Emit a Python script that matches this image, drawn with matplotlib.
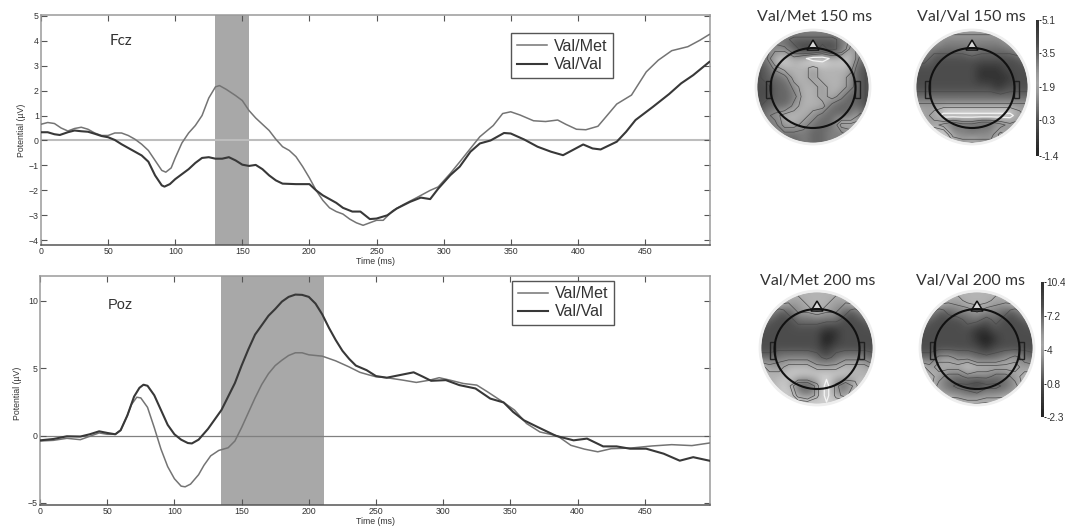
import matplotlib
matplotlib.use('Agg')
import matplotlib.pyplot as plt
from matplotlib.patches import Circle, Ellipse, Polygon, Rectangle
import numpy as np

W, H = 1065, 528

# Fcz (時間, 電位)
fcz_met_t = [0, 5, 10, 15, 20, 25, 30, 35, 40, 45, 50, 55, 60, 65, 70, 75, 80, 85, 90, 93, 97, 100, 105, 110, 115, 120, 125, 130, 133, 138, 145, 150, 155, 160, 165, 170, 175, 180, 185, 190, 195, 200, 205, 210, 215, 220, 225, 230, 235, 240, 250, 255, 262, 270, 280, 290, 296, 305, 312, 320, 327, 337, 344, 350, 357, 367, 376, 385, 391, 399, 406, 415, 421, 429, 440, 451, 460, 470, 482, 491, 498]
fcz_met_v = [0.65, 0.72, 0.68, 0.5, 0.38, 0.48, 0.53, 0.45, 0.3, 0.2, 0.2, 0.3, 0.3, 0.2, 0.05, -0.15, -0.4, -0.8, -1.2, -1.27, -1.1, -0.7, -0.1, 0.3, 0.6, 1.0, 1.7, 2.15, 2.2, 2.05, 1.8, 1.6, 1.2, 0.9, 0.65, 0.4, 0.05, -0.25, -0.4, -0.65, -1.05, -1.5, -2.0, -2.4, -2.7, -2.85, -2.95, -3.15, -3.3, -3.4, -3.2, -3.2, -2.82, -2.57, -2.29, -2.0, -1.86, -1.32, -0.86, -0.32, 0.15, 0.6, 1.08, 1.15, 1.02, 0.79, 0.76, 0.82, 0.65, 0.45, 0.43, 0.57, 0.95, 1.46, 1.82, 2.75, 3.22, 3.6, 3.76, 4.02, 4.25]
fcz_val_t = [0, 5, 10, 14, 20, 25, 30, 35, 40, 45, 50, 55, 60, 65, 70, 75, 80, 85, 90, 92, 96, 100, 105, 110, 115, 120, 125, 130, 135, 140, 145, 150, 155, 160, 165, 170, 175, 180, 190, 200, 205, 210, 215, 220, 225, 232, 238, 245, 250, 258, 265, 275, 283, 290, 296, 305, 312, 320, 327, 335, 345, 350, 360, 370, 380, 389, 396, 404, 411, 417, 429, 436, 443, 456, 468, 477, 486, 498]
fcz_val_v = [0.33, 0.33, 0.25, 0.22, 0.33, 0.4, 0.37, 0.35, 0.27, 0.18, 0.13, 0.02, -0.15, -0.3, -0.45, -0.6, -0.85, -1.4, -1.8, -1.85, -1.75, -1.55, -1.35, -1.15, -0.9, -0.7, -0.67, -0.73, -0.73, -0.67, -0.8, -0.97, -1.02, -0.98, -1.15, -1.4, -1.6, -1.73, -1.75, -1.75, -2.0, -2.2, -2.35, -2.5, -2.7, -2.85, -2.85, -3.15, -3.13, -3.0, -2.73, -2.46, -2.29, -2.35, -1.93, -1.39, -1.05, -0.45, -0.12, 0.0, 0.3, 0.28, 0.04, -0.25, -0.45, -0.59, -0.39, -0.16, -0.32, -0.36, -0.05, 0.35, 0.82, 1.35, 1.86, 2.29, 2.62, 3.15]

# Poz
poz_met_t = [0, 10, 20, 30, 37, 44, 50, 56, 60, 65, 68, 72, 75, 80, 85, 90, 95, 100, 105, 108, 112, 118, 122, 127, 133, 140, 145, 150, 155, 160, 165, 170, 175, 180, 185, 190, 195, 200, 210, 220, 230, 238, 245, 250, 258, 270, 280, 290, 297, 305, 315, 325, 333, 345, 353, 362, 372, 385, 395, 405, 415, 425, 440, 455, 470, 485, 498]
poz_met_v = [-0.4, -0.35, -0.2, -0.3, -0.05, 0.2, 0.1, 0.1, 0.4, 1.5, 2.3, 2.85, 2.8, 2.1, 0.6, -1.0, -2.3, -3.2, -3.75, -3.8, -3.6, -2.9, -2.2, -1.5, -1.1, -0.9, -0.4, 0.6, 1.7, 2.8, 3.8, 4.6, 5.2, 5.6, 5.95, 6.15, 6.15, 6.0, 5.9, 5.55, 5.1, 4.7, 4.5, 4.37, 4.3, 4.12, 3.95, 4.12, 4.3, 4.12, 3.87, 3.75, 3.25, 2.46, 1.9, 0.9, 0.27, -0.02, -0.72, -1.0, -1.2, -0.97, -0.92, -0.77, -0.67, -0.74, -0.55]
poz_val_t = [0, 10, 20, 30, 37, 44, 50, 56, 60, 65, 70, 74, 77, 80, 85, 90, 95, 100, 105, 110, 113, 118, 125, 130, 135, 140, 145, 150, 155, 160, 165, 170, 175, 180, 185, 190, 195, 200, 205, 210, 215, 220, 225, 230, 235, 243, 250, 258, 268, 278, 285, 291, 302, 312, 324, 335, 345, 352, 360, 370, 384, 397, 407, 419, 429, 439, 451, 464, 476, 486, 498]
poz_val_v = [-0.35, -0.25, -0.05, -0.07, 0.1, 0.32, 0.2, 0.1, 0.4, 1.5, 2.9, 3.55, 3.78, 3.7, 3.0, 1.9, 0.8, 0.1, -0.3, -0.55, -0.58, -0.3, 0.5, 1.2, 1.9, 2.9, 3.9, 5.2, 6.4, 7.5, 8.2, 8.9, 9.4, 9.95, 10.3, 10.47, 10.45, 10.3, 9.8, 9.0, 8.0, 7.1, 6.3, 5.7, 5.2, 4.86, 4.42, 4.3, 4.5, 4.7, 4.37, 4.07, 4.12, 3.75, 3.5, 2.75, 2.46, 1.76, 1.14, 0.65, -0.02, -0.35, -0.22, -0.8, -0.8, -0.97, -0.97, -1.34, -1.86, -1.6, -1.86]

x_ticks = [0, 50, 100, 150, 200, 250, 300, 350, 400, 450]
fcz_yticks = [-4, -3, -2, -1, 0, 1, 2, 3, 4, 5]
poz_yticks = [-5, 0, 5, 10]
fcz_span = [129.7, 155]
poz_span = [135, 211]

# 頭皮マップの濃淡 (グレーレベル 0-10)
map_met150 = [
    [5, 5, 5, 5, 5, 5, 5, 5, 5, 5, 5, 5, 5],
    [5, 5, 5, 4, 3, 3, 3, 3, 3, 4, 6, 5, 5],
    [5, 5, 6, 6, 4, 3, 3, 4, 3, 4, 7, 6, 5],
    [4, 5, 8, 8, 7, 8, 9, 9, 8, 8, 8, 5, 4],
    [3, 4, 6, 7, 7, 7, 6, 7, 7, 7, 7, 4, 3],
    [3, 4, 4, 5, 7, 7, 6, 7, 7, 7, 6, 4, 3],
    [3, 3, 4, 4, 6, 7, 7, 6, 7, 7, 6, 4, 3],
    [3, 3, 4, 4, 5, 7, 7, 6, 7, 6, 4, 4, 3],
    [3, 4, 4, 4, 6, 7, 7, 7, 5, 4, 4, 4, 3],
    [4, 5, 6, 7, 7, 7, 6, 5, 4, 4, 4, 6, 4],
    [4, 5, 5, 7, 7, 6, 5, 4, 4, 7, 7, 7, 4],
    [4, 5, 5, 5, 5, 5, 4, 4, 5, 5, 6, 5, 4],
    [5, 5, 5, 4, 4, 5, 4, 4, 5, 5, 5, 5, 5],
]
map_val150 = [
    [6, 6, 6, 6, 6, 6, 6, 6, 6, 6, 6, 6, 6],
    [6, 6, 6, 5, 5, 5, 5, 5, 5, 5, 6, 6, 6],
    [6, 5, 4, 4, 4, 4, 5, 4, 4, 4, 4, 5, 6],
    [4, 4, 3, 3, 3, 3, 3, 3, 3, 3, 3, 3, 4],
    [3, 3, 3, 3, 3, 3, 3, 2, 2, 2, 3, 3, 3],
    [3, 3, 3, 3, 3, 3, 3, 2, 2, 2, 2, 3, 3],
    [3, 3, 3, 3, 3, 3, 3, 3, 3, 2, 3, 3, 3],
    [4, 4, 4, 4, 4, 4, 4, 4, 4, 4, 4, 4, 4],
    [6, 6, 6, 6, 6, 6, 6, 6, 6, 6, 6, 6, 6],
    [7, 6, 7, 9, 9, 9, 9, 9, 9, 9, 9, 7, 6],
    [7, 6, 6, 5, 4, 5, 5, 4, 4, 5, 6, 6, 6],
    [7, 7, 8, 8, 5, 5, 4, 5, 5, 7, 6, 6, 6],
    [6, 7, 7, 8, 7, 6, 7, 6, 6, 6, 6, 6, 6],
]
map_met200 = [
    [7, 7, 7, 7, 7, 7, 7, 7, 7, 7, 7, 7, 7],
    [7, 7, 7, 6, 6, 7, 7, 7, 6, 6, 7, 7, 7],
    [6, 5, 3, 4, 6, 6, 7, 6, 6, 4, 3, 5, 6],
    [4, 3, 3, 3, 4, 4, 4, 4, 4, 3, 3, 3, 4],
    [3, 3, 3, 3, 3, 3, 3, 2, 2, 3, 3, 3, 3],
    [3, 3, 3, 3, 3, 3, 3, 1, 2, 3, 3, 3, 3],
    [3, 3, 3, 3, 3, 3, 3, 2, 3, 3, 3, 3, 3],
    [4, 4, 5, 5, 5, 5, 4, 3, 4, 5, 5, 5, 4],
    [7, 6, 6, 7, 7, 7, 6, 6, 6, 7, 7, 7, 6],
    [7, 7, 7, 8, 8, 8, 8, 8, 8, 8, 7, 7, 7],
    [7, 7, 8, 7, 4, 4, 6, 9, 6, 4, 6, 8, 7],
    [7, 7, 8, 8, 5, 4, 6, 9, 6, 5, 7, 8, 7],
    [7, 7, 7, 8, 8, 8, 8, 8, 8, 8, 7, 7, 7],
]
map_val200 = [
    [7, 7, 7, 7, 7, 7, 7, 7, 7, 7, 7, 7, 7],
    [7, 7, 7, 6, 6, 7, 7, 7, 6, 6, 7, 7, 7],
    [6, 5, 3, 4, 5, 5, 6, 5, 5, 4, 3, 5, 6],
    [4, 3, 3, 3, 3, 4, 4, 3, 4, 3, 3, 3, 4],
    [3, 3, 3, 3, 3, 3, 2, 2, 3, 3, 3, 3, 3],
    [3, 3, 3, 3, 3, 3, 2, 1, 2, 3, 3, 3, 3],
    [3, 3, 3, 3, 3, 3, 3, 2, 3, 3, 3, 3, 3],
    [4, 4, 6, 6, 5, 5, 4, 4, 4, 5, 6, 5, 4],
    [7, 6, 7, 7, 7, 8, 7, 7, 7, 7, 7, 6, 6],
    [7, 7, 6, 5, 5, 6, 6, 6, 5, 5, 6, 7, 7],
    [7, 7, 5, 4, 3, 3, 2, 3, 3, 4, 5, 7, 7],
    [7, 7, 6, 5, 5, 4, 4, 5, 5, 5, 6, 7, 7],
    [7, 7, 8, 8, 7, 7, 7, 7, 7, 8, 8, 7, 7],
]
map_titles = ['Val/Met 150 ms', 'Val/Val 150 ms', 'Val/Met 200 ms', 'Val/Val 200 ms']
cbar_grays = [2, 2.5, 3, 4, 5, 6, 6.5, 6, 5, 4, 3, 2.5, 2, 1.5]
cbar_top_ticks = [5.1, 3.5, 1.9, 0.3, -1.4]
cbar_top_labels = ['5.1', '3.5', '1.9', '0.3', '-1.4']
cbar_bot_ticks = [10.4, 7.2, 4, 0.8, -2.3]
cbar_bot_labels = ['10.4', '7.2', '4', '0.8', '-2.3']


def px_axes(x0, y0, x1, y1, **kw):
    # ピクセル座標 (上が0) から axes を作る
    return fig.add_axes([x0 / W, 1 - y1 / H, (x1 - x0) / W, (y1 - y0) / H], **kw)


def erp_panel(box, ylim, yticks, span, met, val, name, name_xy, legend_xy, xlabel_y, ylabel_xy, zero_color, zero_lw, name_font, name_size):
    ax = px_axes(*box)
    ax.axvspan(span[0], span[1], color='#a8a8a8', lw=0, zorder=1)
    ax.axhline(0, color=zero_color, lw=zero_lw, zorder=1.5)
    ax.plot(met[0], met[1], color='#747474', lw=1.1, label='Val/Met', zorder=3, solid_joinstyle='round')
    ax.plot(val[0], val[1], color='#383838', lw=1.5, label='Val/Val', zorder=3, solid_joinstyle='round')
    ax.set_xlim(0, 498.5)
    ax.set_ylim(*ylim)
    ax.set_xticks(x_ticks)
    ax.set_yticks(yticks)
    ax.tick_params(direction='in', length=4, width=0.8, top=True, right=True, labelsize=6.3,
                   colors='#555555', labelcolor='#333333', pad=1.5)
    for k, s in ax.spines.items():
        s.set_color('#555555' if k in ('bottom',) else '#9a9a9a')
        s.set_linewidth(1.1)
    fig.text(376 / W, 1 - xlabel_y / H, 'Time (ms)', fontsize=6.3, color='#333333', ha='center', va='center')
    fig.text(ylabel_xy[0] / W, 1 - ylabel_xy[1] / H, 'Potential (µV)', fontsize=6.3, color='#333333',
             rotation=90, ha='center', va='center')
    fig.text(name_xy[0] / W, 1 - name_xy[1] / H, name, fontsize=name_size, color='#333333',
             family=name_font, ha='center', va='center')
    leg = ax.legend(loc='upper left', bbox_to_anchor=legend_xy, frameon=True, fancybox=False,
                    framealpha=1, edgecolor='#555555', handlelength=1.9, handletextpad=0.4, borderpad=0.35,
                    labelspacing=0.2, borderaxespad=0, prop={'family': 'Liberation Sans', 'size': 11.6})
    leg.get_frame().set_linewidth(1.0)
    for t in leg.get_texts():
        t.set_color('#333333')
    return ax


def head_map(cx, cy, grid, title, title_x, title_y):
    ax = px_axes(cx - 62, cy - 62, cx + 62, cy + 62)
    ax.set_xlim(-62, 62)
    ax.set_ylim(-62, 62)
    ax.axis('off')
    disc = Circle((0, 0), 56, transform=ax.transData, fc='none', ec='none')
    ax.add_patch(disc)
    z = np.array(grid, dtype=float)
    im = ax.imshow(z, extent=(-57, 57, -57, 57), cmap='gray', vmin=0, vmax=10,
                   interpolation='bicubic', zorder=1)
    im.set_clip_path(disc)
    xs = np.linspace(-57, 57, z.shape[1])
    ys = np.linspace(57, -57, z.shape[0])
    cs = ax.contour(xs, ys, z, levels=[3.5, 5.5, 6.5], colors='#4a4a4a', linewidths=0.5, zorder=2)
    cs.set_clip_path(disc)
    cw = ax.contour(xs, ys, z, levels=[8.3], colors='#f4f4f4', linewidths=0.9, zorder=2)
    cw.set_clip_path(disc)
    ax.add_patch(Circle((0, 0), 57, fc='none', ec='#eeeeee', lw=2.0, zorder=3))
    # 頭の輪郭, 鼻, 耳
    ax.add_patch(Polygon([(-6, 37), (0, 47), (6, 37)], closed=True, fc='#d8d8d8', ec='#111111', lw=1.1, zorder=3))
    ax.add_patch(Ellipse((0, -1), 85, 80, fc='none', ec='#111111', lw=1.5, zorder=4))
    ax.add_patch(Rectangle((-47, -11), 5, 17, fc='none', ec='#222222', lw=1.0, zorder=3))
    ax.add_patch(Rectangle((42, -11), 5, 17, fc='none', ec='#222222', lw=1.0, zorder=3))
    fig.text(title_x / W, 1 - title_y / H, title, fontsize=11.5, color='#333333', family='Lato',
             ha='center', va='center')


def color_bar(x, y0, y1, ticks, labels):
    ax = px_axes(x, y0, x + 3, y1)
    ax.imshow(np.array(cbar_grays)[:, None], extent=(0, 1, ticks[-1], ticks[0]), cmap='gray', vmin=0, vmax=10,
              aspect='auto', origin='upper', interpolation='bilinear')
    ax.set_ylim(ticks[-1], ticks[0])
    ax.set_xticks([])
    ax.yaxis.tick_right()
    ax.set_yticks(ticks)
    ax.set_yticklabels(labels)
    ax.tick_params(length=1.5, width=0.6, labelsize=7.3, labelcolor='#333333', pad=0.3)
    for s in ax.spines.values():
        s.set_visible(False)


fig = plt.figure(figsize=(W / 100, H / 100), dpi=100)
plt.rcParams['font.family'] = ['Liberation Sans', 'DejaVu Sans']

erp_panel((41, 15, 710, 244.5), (-4.17, 5.03), fcz_yticks, fcz_span,
          (fcz_met_t, fcz_met_v), (fcz_val_t, fcz_val_v), 'Fcz', (121, 41), (0.7025, 0.92), 261, (21, 130),
          '#bdbdbd', 1.5, 'Lato', 11)
erp_panel((40, 276, 710, 505), (-5.15, 11.85), poz_yticks, poz_span,
          (poz_met_t, poz_met_v), (poz_val_t, poz_val_v), 'Poz', (120, 305), (0.7045, 0.98), 522, (17, 393),
          '#808080', 0.9, 'Liberation Sans', 10.5)

head_map(813, 87, map_met150, map_titles[0], 815, 17)
head_map(972, 87, map_val150, map_titles[1], 971, 17)
head_map(817, 348, map_met200, map_titles[2], 818, 281)
head_map(977, 348, map_val200, map_titles[3], 971, 281)

color_bar(1036, 20, 156, cbar_top_ticks, cbar_top_labels)
color_bar(1041, 282, 417, cbar_bot_ticks, cbar_bot_labels)

fig.savefig('out.png', dpi=100)
